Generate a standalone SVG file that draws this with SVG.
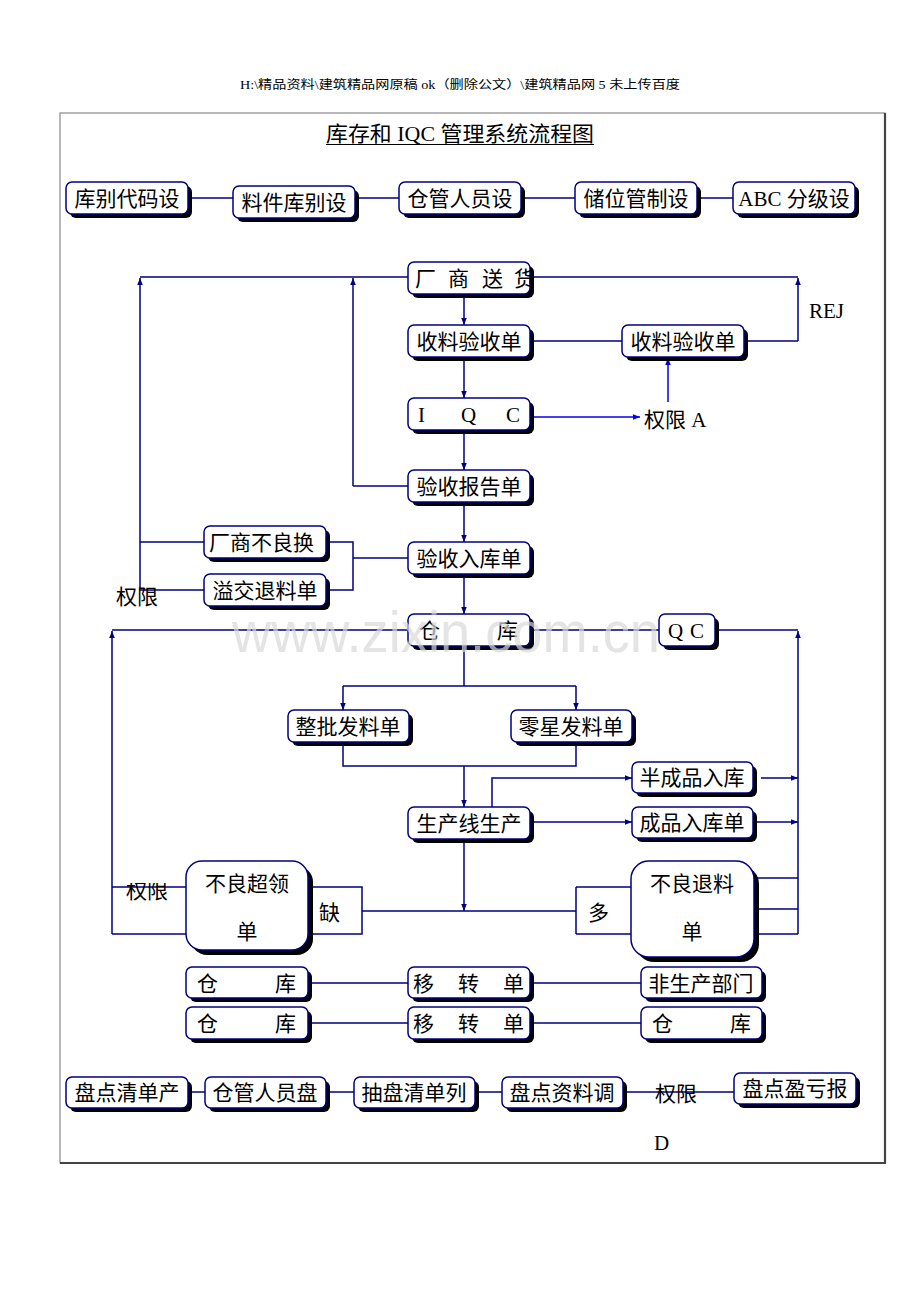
<svg xmlns="http://www.w3.org/2000/svg" width="920" height="1302" viewBox="0 0 920 1302">
<style>
.box{fill:#fff;stroke:#000080;stroke-width:1.5}
.sh{fill:#000}
.ln{fill:none;stroke:#000080;stroke-width:1.5}
.lb{fill:none;stroke:#0000ee;stroke-width:1.5}
.t{font-family:"Liberation Serif","Noto Sans CJK SC",serif;font-size:21px;fill:#000}
.tm{font-family:"Liberation Serif","Noto Sans CJK SC",serif;font-size:21px;fill:#000;text-anchor:middle}
</style>
<defs>
<marker id="a" viewBox="0 0 10 10" refX="10" refY="5" markerWidth="7" markerHeight="7" orient="auto" markerUnits="userSpaceOnUse"><path d="M0,1 L10,5 L0,9z" fill="#000080"/></marker>
<marker id="ab" viewBox="0 0 10 10" refX="10" refY="5" markerWidth="7" markerHeight="7" orient="auto" markerUnits="userSpaceOnUse"><path d="M0,1 L10,5 L0,9z" fill="#0000ee"/></marker>
<clipPath id="cl"><rect x="100" y="883" width="90" height="20"/></clipPath>
</defs>
<rect width="920" height="1302" fill="#fff"/>
<text x="460" y="89" text-anchor="middle" font-family="Liberation Serif,'Noto Sans CJK SC',serif" font-size="12" textLength="440" lengthAdjust="spacingAndGlyphs">H:\精品资料\建筑精品网原稿 ok（删除公文）\建筑精品网 5 未上传百度</text>
<rect x="60" y="113" width="825" height="1050" fill="none" stroke="#888" stroke-width="1.2"/>
<path d="M885 113 V1163 H60" fill="none" stroke="#444" stroke-width="2.2"/>
<g id="title">
<text x="326" y="141" class="t" textLength="268" lengthAdjust="spacingAndGlyphs">库存和 IQC 管理系统流程图</text>
<line x1="326" y1="144.5" x2="594" y2="144.5" stroke="#000" stroke-width="1"/>
</g>
<g id="connectors">
<path class="ln" d="M188 198H233M355 198H399M521 198H575M697 198H733"/>
<path class="ln" d="M408 277H140M140 542H204M140 590H204"/>
<path class="ln" d="M140 590V278" marker-end="url(#a)"/>
<path class="ln" d="M408 486H353"/>
<path class="ln" d="M353 486V278" marker-end="url(#a)"/>
<path class="ln" d="M530 277H798M744 341H798M530 341H622"/>
<path class="ln" d="M798 341V278" marker-end="url(#a)"/>
<path class="ln" d="M464 294V325" marker-end="url(#a)"/>
<path class="ln" d="M464 357V398" marker-end="url(#a)"/>
<path class="ln" d="M464 430V470" marker-end="url(#a)"/>
<path class="ln" d="M464 502V542" marker-end="url(#a)"/>
<path class="ln" d="M464 574V614" marker-end="url(#a)"/>
<path class="lb" d="M530 417H640" marker-end="url(#ab)"/>
<path class="lb" d="M668 402V358" marker-end="url(#ab)"/>
<path class="ln" d="M326 542H353V590H326M353 558H408"/>
<path class="ln" d="M408 630H112M112 887H186M112 934H186"/>
<path class="ln" d="M112 934V631" marker-end="url(#a)"/>
<path class="ln" d="M530 630H659M715 630H798"/>
<path class="ln" d="M798 934V631" marker-end="url(#a)"/>
<path class="ln" d="M464 646V686M343 686H576"/>
<path class="ln" d="M343 686V710" marker-end="url(#a)"/>
<path class="ln" d="M576 686V710" marker-end="url(#a)"/>
<path class="ln" d="M343 742V766H576V742"/>
<path class="ln" d="M464 766V807" marker-end="url(#a)"/>
<path class="ln" d="M492 807V778H632" marker-end="url(#a)"/>
<path class="ln" d="M530 822H632" marker-end="url(#a)"/>
<path class="ln" d="M761 778H798" marker-end="url(#a)"/>
<path class="ln" d="M753 822H798" marker-end="url(#a)"/>
<path class="ln" d="M308 887H362V934H308M362 911H576M576 887V934M576 887H631M576 934H631"/>
<path class="ln" d="M464 839V911" marker-end="url(#a)"/>
<path class="ln" d="M754 878H798M754 909H798M754 934H798"/>
<path class="ln" d="M308 983H408M530 983H641M308 1023H408M530 1023H641"/>
<path class="ln" d="M188 1092H205M326 1092H354M475 1092H502M623 1092H734"/>
</g>
<g id="n1"><rect class="sh" x="70" y="186" width="122" height="32" rx="6"/><rect class="box" x="66" y="182" width="122" height="32" rx="6"/><text class="tm" x="127" y="206">库别代码设</text></g>
<g id="n2"><rect class="sh" x="237" y="190" width="122" height="32" rx="6"/><rect class="box" x="233" y="186" width="122" height="32" rx="6"/><text class="tm" x="294" y="210">料件库别设</text></g>
<g id="n3"><rect class="sh" x="403" y="186" width="122" height="32" rx="6"/><rect class="box" x="399" y="182" width="122" height="32" rx="6"/><text class="tm" x="460" y="206">仓管人员设</text></g>
<g id="n4"><rect class="sh" x="579" y="186" width="122" height="32" rx="6"/><rect class="box" x="575" y="182" width="122" height="32" rx="6"/><text class="tm" x="636" y="206">储位管制设</text></g>
<g id="n5"><rect class="sh" x="737" y="186" width="122" height="32" rx="6"/><rect class="box" x="733" y="182" width="122" height="32" rx="6"/><text class="tm" x="794" y="206">ABC 分级设</text></g>
<g id="n6"><rect class="sh" x="412" y="266" width="122" height="32" rx="6"/><rect class="box" x="408" y="262" width="122" height="32" rx="6"/><text class="t" x="415 448 482 514" y="286">厂商送货</text></g>
<g id="n7"><rect class="sh" x="412" y="329" width="122" height="32" rx="6"/><rect class="box" x="408" y="325" width="122" height="32" rx="6"/><text class="tm" x="469" y="349">收料验收单</text></g>
<g id="n8"><rect class="sh" x="626" y="329" width="122" height="32" rx="6"/><rect class="box" x="622" y="325" width="122" height="32" rx="6"/><text class="tm" x="683" y="349">收料验收单</text></g>
<g id="n9"><rect class="sh" x="412" y="402" width="122" height="32" rx="6"/><rect class="box" x="408" y="398" width="122" height="32" rx="6"/><text class="t" x="418 461 506" y="422">IQC</text></g>
<g id="n10"><rect class="sh" x="412" y="474" width="122" height="32" rx="6"/><rect class="box" x="408" y="470" width="122" height="32" rx="6"/><text class="tm" x="469" y="494">验收报告单</text></g>
<g id="n11"><rect class="sh" x="208" y="530" width="122" height="32" rx="6"/><rect class="box" x="204" y="526" width="122" height="32" rx="6"/><text class="t" x="209" y="550">厂商不良换</text></g>
<g id="n12"><rect class="sh" x="208" y="578" width="122" height="32" rx="6"/><rect class="box" x="204" y="574" width="122" height="32" rx="6"/><text class="tm" x="265" y="598">溢交退料单</text></g>
<g id="n13"><rect class="sh" x="412" y="546" width="122" height="32" rx="6"/><rect class="box" x="408" y="542" width="122" height="32" rx="6"/><text class="tm" x="469" y="566">验收入库单</text></g>
<g id="n14"><rect class="sh" x="412" y="618" width="122" height="32" rx="6"/><rect class="box" x="408" y="614" width="122" height="32" rx="6"/><text class="t" x="419 497" y="638">仓库</text></g>
<g id="n15"><rect class="sh" x="663" y="618" width="56" height="32" rx="6"/><rect class="box" x="659" y="614" width="56" height="32" rx="6"/><text class="t" x="668 690" y="638">QC</text></g>
<g id="n16"><rect class="sh" x="292" y="714" width="121" height="32" rx="6"/><rect class="box" x="288" y="710" width="121" height="32" rx="6"/><text class="tm" x="348" y="734">整批发料单</text></g>
<g id="n17"><rect class="sh" x="515" y="714" width="121" height="32" rx="6"/><rect class="box" x="511" y="710" width="121" height="32" rx="6"/><text class="tm" x="571" y="734">零星发料单</text></g>
<g id="n18"><rect class="sh" x="412" y="811" width="122" height="32" rx="6"/><rect class="box" x="408" y="807" width="122" height="32" rx="6"/><text class="tm" x="469" y="831">生产线生产</text></g>
<g id="n19"><rect class="sh" x="636" y="766" width="121" height="31" rx="6"/><rect class="box" x="632" y="762" width="121" height="31" rx="6"/><text class="tm" x="692" y="785">半成品入库</text></g>
<g id="n20"><rect class="sh" x="636" y="811" width="121" height="31" rx="6"/><rect class="box" x="632" y="807" width="121" height="31" rx="6"/><text class="tm" x="692" y="830">成品入库单</text></g>
<g id="n21"><rect class="sh" x="191" y="866" width="122" height="89" rx="16"/><rect class="box" x="186" y="861" width="122" height="89" rx="16"/><text class="tm" x="247" y="891">不良超领</text><text class="tm" x="247" y="939">单</text></g>
<g id="n22"><rect class="sh" x="636" y="866" width="123" height="96" rx="18"/><rect class="box" x="631" y="861" width="123" height="96" rx="18"/><text class="tm" x="692" y="891">不良退料</text><text class="tm" x="692" y="939">单</text></g>
<g id="n23"><rect class="sh" x="190" y="971" width="122" height="31" rx="6"/><rect class="box" x="186" y="967" width="122" height="31" rx="6"/><text class="t" x="197 275" y="991">仓库</text></g>
<g id="n24"><rect class="sh" x="412" y="971" width="122" height="31" rx="6"/><rect class="box" x="408" y="967" width="122" height="31" rx="6"/><text class="t" x="413 458 503" y="991">移转单</text></g>
<g id="n25"><rect class="sh" x="645" y="971" width="121" height="31" rx="6"/><rect class="box" x="641" y="967" width="121" height="31" rx="6"/><text class="tm" x="701" y="991">非生产部门</text></g>
<g id="n26"><rect class="sh" x="190" y="1011" width="122" height="32" rx="6"/><rect class="box" x="186" y="1007" width="122" height="32" rx="6"/><text class="t" x="197 275" y="1031">仓库</text></g>
<g id="n27"><rect class="sh" x="412" y="1011" width="122" height="32" rx="6"/><rect class="box" x="408" y="1007" width="122" height="32" rx="6"/><text class="t" x="413 458 503" y="1031">移转单</text></g>
<g id="n28"><rect class="sh" x="645" y="1011" width="121" height="32" rx="6"/><rect class="box" x="641" y="1007" width="121" height="32" rx="6"/><text class="t" x="652 730" y="1031">仓库</text></g>
<g id="n29"><rect class="sh" x="70" y="1081" width="122" height="31" rx="6"/><rect class="box" x="66" y="1077" width="122" height="31" rx="6"/><text class="tm" x="127" y="1100">盘点清单产</text></g>
<g id="n30"><rect class="sh" x="209" y="1081" width="121" height="31" rx="6"/><rect class="box" x="205" y="1077" width="121" height="31" rx="6"/><text class="tm" x="265" y="1100">仓管人员盘</text></g>
<g id="n31"><rect class="sh" x="358" y="1081" width="121" height="31" rx="6"/><rect class="box" x="354" y="1077" width="121" height="31" rx="6"/><text class="tm" x="414" y="1100">抽盘清单列</text></g>
<g id="n32"><rect class="sh" x="506" y="1081" width="121" height="31" rx="6"/><rect class="box" x="502" y="1077" width="121" height="31" rx="6"/><text class="tm" x="562" y="1100">盘点资料调</text></g>
<g id="n33"><rect class="sh" x="738" y="1077" width="122" height="31" rx="6"/><rect class="box" x="734" y="1073" width="122" height="31" rx="6"/><text class="tm" x="795" y="1096">盘点盈亏报</text></g>
<g id="labels">
<text class="t" x="809" y="318">REJ</text>
<text class="t" x="644" y="427">权限 A</text>
<text class="t" x="116" y="604">权限</text>
<text class="t" x="126" y="898" font-size="19" clip-path="url(#cl)">权限</text>
<text class="t" x="319" y="920">缺</text>
<text class="t" x="588" y="920">多</text>
<text class="t" x="655" y="1101">权限</text>
<text class="t" x="654" y="1150">D</text>
</g>
<text x="232" y="652" font-family="Liberation Sans,Arial,sans-serif" font-size="58" fill="#d8d8d8" fill-opacity="0.7" textLength="428" lengthAdjust="spacingAndGlyphs">www.zixin.com.cn</text>
</svg>
